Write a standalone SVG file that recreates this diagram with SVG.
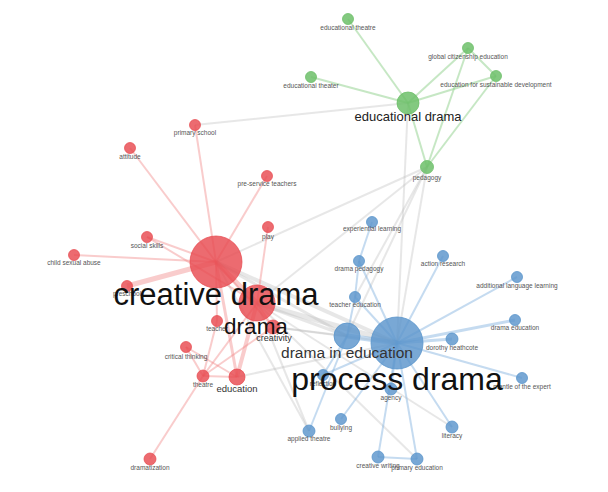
<svg xmlns="http://www.w3.org/2000/svg" width="608" height="492" viewBox="0 0 608 492">
<style>
text{font-family:"Liberation Sans",Arial,sans-serif;text-anchor:middle}
.s{font-size:6.5px;fill:#555}
.big{fill:#111}
.r{fill:#e84a50;fill-opacity:.82;stroke:#e84a50;stroke-opacity:.9;stroke-width:.8}
.g{fill:#6dbf6a;fill-opacity:.85;stroke:#6dbf6a;stroke-width:.8}
.b{fill:#5b95cc;fill-opacity:.82;stroke:#5b95cc;stroke-width:.8}
.er{stroke:#f08080;stroke-opacity:.4;stroke-width:2;fill:none}
.eg{stroke:#8ed08a;stroke-opacity:.5;stroke-width:2;fill:none}
.eb{stroke:#7fb0de;stroke-opacity:.45;stroke-width:2;fill:none}
.ex{stroke:#bbb;stroke-opacity:.35;stroke-width:2;fill:none}
</style>
<rect width="608" height="492" fill="#fff"/>
<g id="edges">
<!-- grey cross edges -->
<line class="ex" x1="195" y1="125" x2="408" y2="103"/>
<line class="ex" x1="408" y1="103" x2="397" y2="343"/>
<line class="ex" x1="427" y1="167" x2="216" y2="262"/>
<line class="ex" x1="427" y1="167" x2="257" y2="303"/>
<line class="ex" x1="427" y1="167" x2="347" y2="336"/>
<line class="ex" x1="427" y1="167" x2="397" y2="343"/>
<line class="ex" x1="427" y1="167" x2="355" y2="297"/>
<line class="ex" x1="216" y1="262" x2="397" y2="343" style="stroke-width:4"/>
<line class="ex" x1="216" y1="262" x2="347" y2="336" style="stroke-width:3"/>
<line class="ex" x1="257" y1="303" x2="397" y2="343" style="stroke-width:5"/>
<line class="ex" x1="257" y1="303" x2="347" y2="336" style="stroke-width:3"/>
<line class="ex" x1="273" y1="327" x2="397" y2="343"/>
<line class="ex" x1="273" y1="327" x2="347" y2="336"/>
<line class="ex" x1="237" y1="377" x2="397" y2="343"/>
<line class="ex" x1="257" y1="303" x2="452" y2="427"/>
<line class="ex" x1="257" y1="303" x2="417" y2="459"/>
<line class="ex" x1="216" y1="262" x2="309" y2="431"/>
<line class="ex" x1="257" y1="303" x2="309" y2="431"/>
<!-- green -->
<line class="eg" x1="408" y1="103" x2="348" y2="19"/>
<line class="eg" x1="408" y1="103" x2="311" y2="77"/>
<line class="eg" x1="408" y1="103" x2="468" y2="48"/>
<line class="eg" x1="408" y1="103" x2="496" y2="76"/>
<line class="eg" x1="468" y1="48" x2="496" y2="76"/>
<line class="eg" x1="468" y1="48" x2="427" y2="167"/>
<line class="eg" x1="496" y1="76" x2="427" y2="167"/>
<line class="eg" x1="408" y1="103" x2="427" y2="167"/>
<!-- red -->
<line class="er" x1="216" y1="262" x2="195" y2="125"/>
<line class="er" x1="216" y1="262" x2="130" y2="148"/>
<line class="er" x1="216" y1="262" x2="267" y2="176"/>
<line class="er" x1="216" y1="262" x2="147" y2="237"/>
<line class="er" x1="257" y1="303" x2="147" y2="237"/>
<line class="er" x1="216" y1="262" x2="74" y2="255"/>
<line class="er" x1="216" y1="262" x2="127" y2="286" style="stroke-width:5"/>
<line class="er" x1="216" y1="262" x2="257" y2="303" style="stroke-width:5"/>
<line class="er" x1="216" y1="262" x2="237" y2="377" style="stroke-width:3"/>
<line class="er" x1="216" y1="262" x2="217" y2="321"/>
<line class="er" x1="216" y1="262" x2="273" y2="327"/>
<line class="er" x1="268" y1="227" x2="257" y2="303"/>
<line class="er" x1="257" y1="303" x2="237" y2="377" style="stroke-width:4"/>
<line class="er" x1="257" y1="303" x2="203" y2="376"/>
<line class="er" x1="257" y1="303" x2="273" y2="327"/>
<line class="er" x1="217" y1="321" x2="203" y2="376"/>
<line class="er" x1="186" y1="347" x2="203" y2="376"/>
<line class="er" x1="186" y1="347" x2="237" y2="377"/>
<line class="er" x1="273" y1="327" x2="203" y2="376"/>
<line class="er" x1="203" y1="376" x2="237" y2="377"/>
<line class="er" x1="203" y1="376" x2="150" y2="459"/>
<!-- blue -->
<line class="eb" x1="372" y1="222" x2="359" y2="261"/>
<line class="eb" x1="359" y1="261" x2="355" y2="297"/>
<line class="eb" x1="355" y1="297" x2="347" y2="336"/>
<line class="eb" x1="359" y1="261" x2="397" y2="343"/>
<line class="eb" x1="355" y1="297" x2="397" y2="343"/>
<line class="eb" x1="443" y1="256" x2="397" y2="343"/>
<line class="eb" x1="517" y1="277" x2="397" y2="343"/>
<line class="eb" x1="515" y1="320" x2="397" y2="343" style="stroke-width:3"/>
<line class="eb" x1="452" y1="339" x2="397" y2="343" style="stroke-width:3"/>
<line class="eb" x1="522" y1="378" x2="397" y2="343"/>
<line class="eb" x1="452" y1="427" x2="397" y2="343"/>
<line class="eb" x1="417" y1="459" x2="397" y2="343"/>
<line class="eb" x1="378" y1="457" x2="397" y2="343"/>
<line class="eb" x1="378" y1="457" x2="417" y2="459"/>
<line class="eb" x1="341" y1="419" x2="397" y2="343"/>
<line class="eb" x1="391" y1="389" x2="397" y2="343"/>
<line class="eb" x1="323" y1="375" x2="397" y2="343"/>
<line class="eb" x1="323" y1="375" x2="347" y2="336"/>
<line class="eb" x1="309" y1="431" x2="347" y2="336"/>
<line class="eb" x1="347" y1="336" x2="397" y2="343" style="stroke-width:5"/>
</g>
<!-- small nodes -->
<g id="n-educational-theatre"><circle class="g" cx="348" cy="19" r="5.5"/><text class="s" x="348" y="30">educational theatre</text></g>
<g id="n-global-citizenship-education"><circle class="g" cx="468" cy="48" r="5.5"/><text class="s" x="468" y="59">global citizenship education</text></g>
<g id="n-education-for-sustainable-development"><circle class="g" cx="496" cy="76" r="5.5"/><text class="s" x="496" y="87">education for sustainable development</text></g>
<g id="n-educational-theater"><circle class="g" cx="311" cy="77" r="5.5"/><text class="s" x="311" y="88">educational theater</text></g>
<g id="n-pedagogy"><circle class="g" cx="427" cy="167" r="6.5"/><text class="s" x="427" y="180">pedagogy</text></g>
<g id="n-primary-school"><circle class="r" cx="195" cy="125" r="5.5"/><text class="s" x="195" y="135">primary school</text></g>
<g id="n-attitude"><circle class="r" cx="130" cy="148" r="5.5"/><text class="s" x="130" y="159">attitude</text></g>
<g id="n-pre-service-teachers"><circle class="r" cx="267" cy="176" r="5.5"/><text class="s" x="267" y="186">pre-service teachers</text></g>
<g id="n-play"><circle class="r" cx="268" cy="227" r="5.5"/><text class="s" x="268" y="239">play</text></g>
<g id="n-social-skills"><circle class="r" cx="147" cy="237" r="5.5"/><text class="s" x="147" y="248">social skills</text></g>
<g id="n-child-sexual-abuse"><circle class="r" cx="74" cy="255" r="5.5"/><text class="s" x="74" y="265">child sexual abuse</text></g>
<g id="n-preschool"><circle class="r" cx="127" cy="286" r="5.5"/><text class="s" x="127" y="296">preschool</text></g>
<g id="n-teacher"><circle class="r" cx="217" cy="321" r="5.5"/><text class="s" x="217" y="331">teacher</text></g>
<g id="n-creativity"><circle class="r" cx="273" cy="327" r="7"/><text x="274" y="341" style="font-size:9px;fill:#333">creativity</text></g>
<g id="n-critical-thinking"><circle class="r" cx="186" cy="347" r="5.5"/><text class="s" x="186" y="359">critical thinking</text></g>
<g id="n-theatre"><circle class="r" cx="203" cy="376" r="6"/><text class="s" x="203" y="387">theatre</text></g>
<g id="n-education"><circle class="r" cx="237" cy="377" r="8"/><text x="237" y="392" style="font-size:9.5px;fill:#333">education</text></g>
<g id="n-dramatization"><circle class="r" cx="150" cy="459" r="6"/><text class="s" x="150" y="470">dramatization</text></g>
<g id="n-experiential-learning"><circle class="b" cx="372" cy="222" r="5.5"/><text class="s" x="372" y="231">experiential learning</text></g>
<g id="n-drama-pedagogy"><circle class="b" cx="359" cy="261" r="5.5"/><text class="s" x="359" y="271">drama pedagogy</text></g>
<g id="n-action-research"><circle class="b" cx="443" cy="256" r="5.5"/><text class="s" x="443" y="266">action research</text></g>
<g id="n-additional-language-learning"><circle class="b" cx="517" cy="277" r="5.5"/><text class="s" x="517" y="288">additional language learning</text></g>
<g id="n-teacher-education"><circle class="b" cx="355" cy="297" r="5.5"/><text class="s" x="355" y="307">teacher education</text></g>
<g id="n-drama-education"><circle class="b" cx="515" cy="320" r="5.5"/><text class="s" x="515" y="330">drama education</text></g>
<g id="n-dorothy-heathcote"><circle class="b" cx="452" cy="339" r="6"/><text class="s" x="452" y="350">dorothy heathcote</text></g>
<g id="n-mantle-of-the-expert"><circle class="b" cx="522" cy="378" r="5.5"/><text class="s" x="522" y="389">mantle of the expert</text></g>
<g id="n-reflection"><circle class="b" cx="323" cy="375" r="5.5"/><text class="s" x="323" y="386">reflection</text></g>
<g id="n-agency"><circle class="b" cx="391" cy="389" r="6"/><text class="s" x="391" y="400">agency</text></g>
<g id="n-bullying"><circle class="b" cx="341" cy="419" r="5.5"/><text class="s" x="341" y="430">bullying</text></g>
<g id="n-applied-theatre"><circle class="b" cx="309" cy="431" r="6"/><text class="s" x="309" y="441">applied theatre</text></g>
<g id="n-literacy"><circle class="b" cx="452" cy="427" r="6"/><text class="s" x="452" y="438">literacy</text></g>
<g id="n-creative-writing"><circle class="b" cx="378" cy="457" r="6"/><text class="s" x="378" y="468">creative writing</text></g>
<g id="n-primary-education"><circle class="b" cx="417" cy="459" r="6"/><text class="s" x="417" y="470">primary education</text></g>
<!-- big nodes -->
<g id="n-educational-drama"><circle class="g" cx="408" cy="103" r="11"/><text class="big" x="408" y="121" style="font-size:13px;fill:#222">educational drama</text></g>
<g id="n-process-drama"><circle class="b" cx="397" cy="343" r="26"/><text class="big" x="397" y="390" style="font-size:32px">process drama</text></g>
<g id="n-drama-in-education"><circle class="b" cx="347" cy="336" r="13"/><text x="347" y="358" style="font-size:15.5px;fill:#333">drama in education</text></g>
<g id="n-drama"><circle class="r" cx="257" cy="303" r="18"/><text class="big" x="256" y="334" style="font-size:22.5px">drama</text></g>
<g id="n-creative-drama"><circle class="r" cx="216" cy="262" r="26"/><text class="big" x="216" y="305" style="font-size:31px">creative drama</text></g>
</svg>
